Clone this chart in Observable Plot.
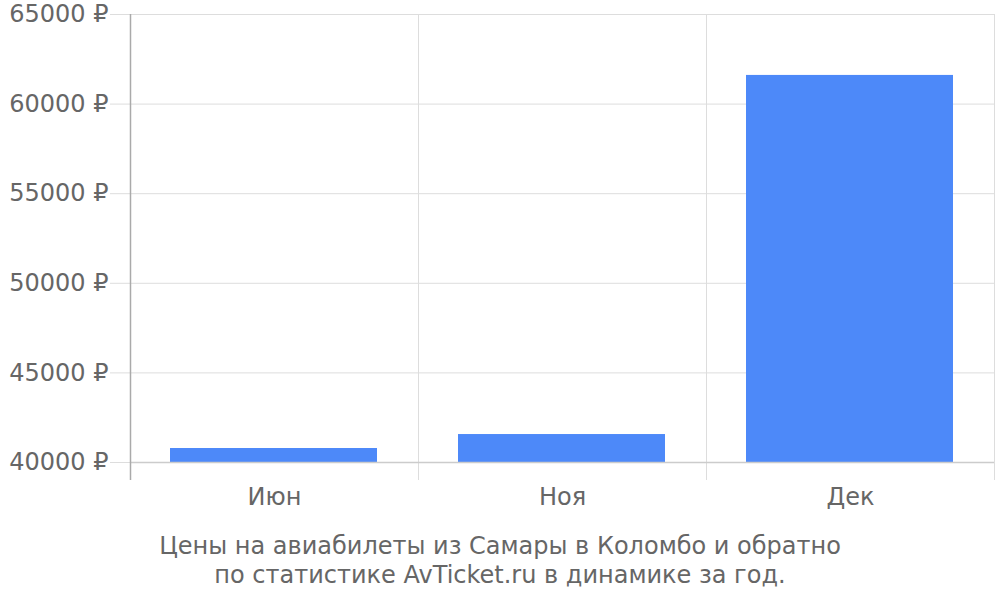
<!DOCTYPE html>
<html>
<head>
<meta charset="utf-8">
<script src="https://cdn.jsdelivr.net/npm/d3@7"></script>
<script src="https://cdn.jsdelivr.net/npm/@observablehq/plot@0.6"></script>
<style>
  body { margin: 0; background: #fff; font-family: "DejaVu Sans", sans-serif; }
  #caption { width: 1000px; text-align: center; color: #666; font-size: 24px; line-height: 29px; padding-top: 12px; }
</style>
</head>
<body>
<div id="chart"></div>
<div id="caption">Цены на авиабилеты из Самары в Коломбо и обратно<br>по статистике AvTicket.ru в динамике за год.</div>
<script>
const months = ["Июн", "Ноя", "Дек"];
const prices = [40780, 41560, 61600];
const yTicks = [40000, 45000, 50000, 55000, 60000, 65000];

const data = months.map((m, i) => ({month: m, price: prices[i]}));

const width = 1000, height = 520;
const marginLeft = 130, marginRight = 6, marginTop = 14, marginBottom = 40;
const half = (width - marginLeft - marginRight) / months.length / 2;

const chart = Plot.plot({
  width, height, marginLeft, marginRight, marginTop, marginBottom,
  style: {fontFamily: "DejaVu Sans, sans-serif", fontSize: "20px", color: "#666", background: "#fff"},
  x: {domain: months, padding: 0, label: null},
  y: {domain: [38995, 65000], label: null},
  marks: [
    Plot.gridY(yTicks, {stroke: "#ddd", strokeOpacity: 1}),
    Plot.axisY(yTicks, {tickSize: 20, tickPadding: 2, tickFormat: d => d + " ₽", stroke: "#ddd", fill: "#666", label: null, fontSize: 24}),
    Plot.ruleX(months, {x: d => d, dx: -half, stroke: "#ddd"}),
    Plot.ruleX(months.slice(-1), {x: d => d, dx: half, stroke: "#ddd"}),
    Plot.barY(data, {x: "month", y1: 40000, y2: "price", fill: "#4d89f9", insetLeft: 40, insetRight: 41}),
    Plot.ruleY([40000], {stroke: "#ccc", strokeWidth: 1.5}),
    Plot.ruleX(months.slice(0, 1), {x: d => d, dx: -half, stroke: "#aaa", strokeWidth: 1.5}),
    Plot.axisX({tickSize: 0, tickPadding: 7, fill: "#666", fontSize: 24, label: null})
  ]
});
document.getElementById("chart").appendChild(chart);
</script>
</body>
</html>
